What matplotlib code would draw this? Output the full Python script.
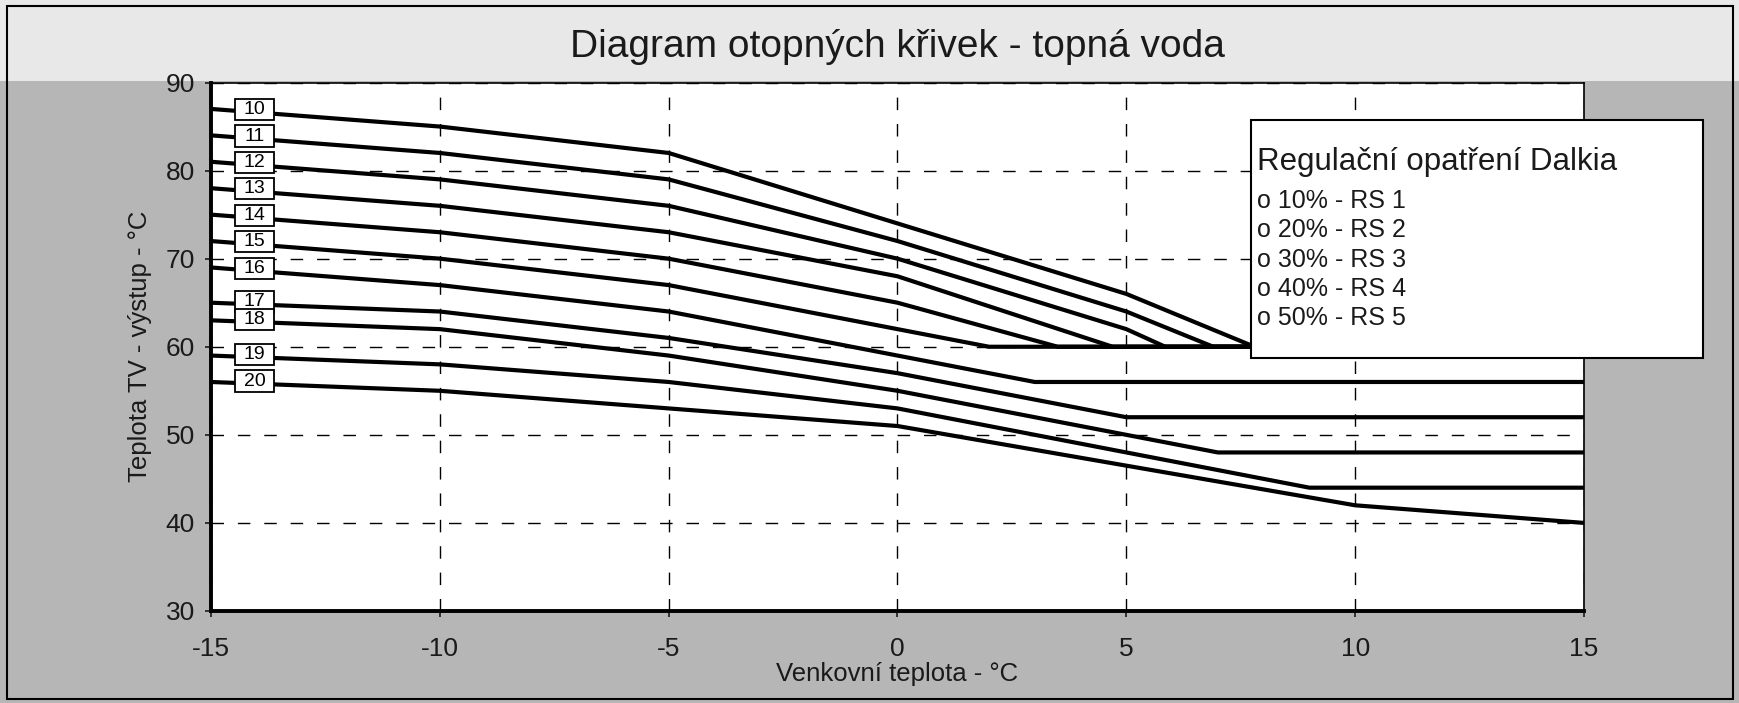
import matplotlib
matplotlib.use("Agg")
import matplotlib.pyplot as plt
from matplotlib.patches import Rectangle
import numpy as np

plt.rcParams['font.family'] = ['Liberation Sans', 'DejaVu Sans']
plt.rcParams['axes.unicode_minus'] = False

# heating curves
curve_ids = [10, 11, 12, 13, 14, 15, 16, 17, 18, 19, 20]
outdoor = [-15, -10, -5, 0]
t_m15 = [87, 84, 81, 78, 75, 72, 69, 65, 63, 59, 56]
t_m10 = [85, 82, 79, 76, 73, 70, 67, 64, 62, 58, 55]
t_m5 = [82, 79, 76, 73, 70, 67, 64, 61, 59, 56, 53]
t_0 = [74, 72, 70, 68, 65, 62, 59, 57, 55, 53, 51]
# knee points after 0 degC, then flat (or end value) at +15
tail_x = [[5, 7.8], [5, 6.9], [5, 5.85], [4.7], [3.5], [2.0], [3.0], [5.0], [7.0], [9.0], [10.0]]
tail_t = [[66, 60], [64, 60], [62, 60], [60], [60], [60], [56], [52], [48], [44], [42]]
end_t = [60, 60, 60, 60, 60, 60, 56, 52, 48, 44, 40]

legend_title = "Regulační opatření Dalkia"
legend_items = ["o 10% - RS 1", "o 20% - RS 2", "o 30% - RS 3", "o 40% - RS 4", "o 50% - RS 5"]

W, H = 1740, 703
fig = plt.figure(figsize=(W / 100, H / 100), dpi=100)
fig.patch.set_facecolor('#b6b6b6')
fig.add_artist(Rectangle((0, 0.885), 1, 0.115, transform=fig.transFigure,
                         facecolor='#e8e8e8', edgecolor='none', zorder=-5))
fig.add_artist(Rectangle((0.004, 0.006), 0.992, 0.986, transform=fig.transFigure,
                         fill=False, edgecolor='black', lw=1.5, zorder=10))

ax = fig.add_axes([211 / W, 1 - 611 / H, (1584 - 211) / W, (611 - 82.5) / H])
ax.set_facecolor('white')
ax.set_xlim(-15, 15)
ax.set_ylim(30, 90)
ax.set_xticks(range(-15, 16, 5))
ax.set_yticks(range(30, 91, 10))
ax.grid(True, color='black', linestyle=(0, (9, 10)), lw=1.0)
ax.set_axisbelow(True)

for sp in ['left', 'bottom']:
    ax.spines[sp].set_linewidth(2.8)
for sp in ['top', 'right']:
    ax.spines[sp].set_linewidth(1.2)

ax.tick_params(axis='x', direction='out', length=4.5, width=1.2, labelsize=19, pad=14, colors='#1a1a1a')
ax.tick_params(axis='y', direction='out', length=4.5, width=1.2, labelsize=19, pad=7, colors='#1a1a1a')
ax.set_xlabel("Venkovní teplota - °C", fontsize=18.5, labelpad=1, color='#1a1a1a')
ax.set_ylabel("Teplota TV - výstup - °C", fontsize=18.5, labelpad=10, color='#1a1a1a')

for i, cid in enumerate(curve_ids):
    xs = outdoor + tail_x[i] + [15]
    ts = [t_m15[i], t_m10[i], t_m5[i], t_0[i]] + tail_t[i] + [end_t[i]]
    ax.plot(xs, ts, color='black', lw=3.0, solid_joinstyle='round', zorder=3)

    lx = -14.05
    ly = np.interp(lx, xs, ts) + 0.3
    ax.add_patch(Rectangle((lx - 0.43, ly - 1.2), 0.86, 2.4, facecolor='white',
                           edgecolor='black', lw=1.3, zorder=4))
    ax.text(lx, ly, str(cid), ha='center', va='center', fontsize=14, zorder=5)

fig.text(897 / W, 1 - 47 / H, "Diagram otopných křivek - topná voda",
         ha='center', va='center', fontsize=28, color='#1a1a1a')

# legend box drawn over the plot, sticking out past the right edge
fig.add_artist(Rectangle((1250.6 / W, 1 - 358.4 / H), (1703.4 - 1250.6) / W, (358.4 - 119.8) / H,
                         transform=fig.transFigure, facecolor='white', edgecolor='black',
                         lw=1.5, zorder=6))
fig.text(1257 / W, 1 - 162 / H, legend_title, ha='left', va='center',
         fontsize=22.5, color='#1a1a1a', zorder=7)
for k, item in enumerate(legend_items):
    fig.text(1257 / W, 1 - (201 + 29.3 * k) / H, item, ha='left', va='center',
             fontsize=18, color='#1a1a1a', zorder=7)

fig.savefig("out.png", dpi=100, facecolor=fig.get_facecolor())
